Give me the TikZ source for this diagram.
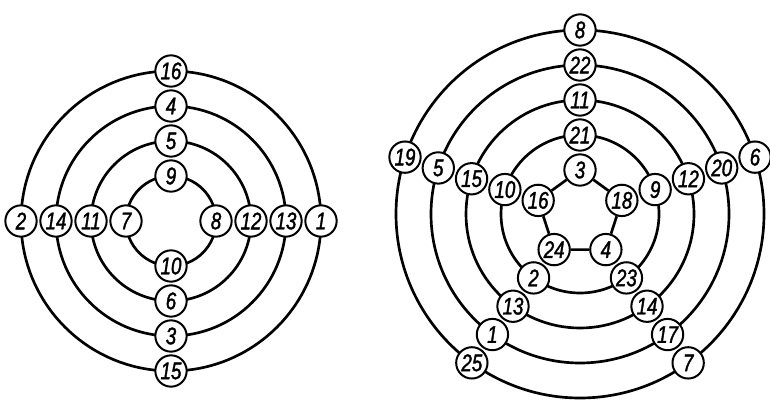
\documentclass[tikz,border=0pt]{standalone}
\usepackage{fontspec}
\newfontfamily\numfont[FakeStretch=0.78,FakeBold=1.5]{Liberation Sans}
\usetikzlibrary{calc,backgrounds}

\begin{document}
\begin{tikzpicture}[
  x=0.75pt, y=0.75pt,
  num/.style={circle, draw, line width=1.5pt, fill=white, minimum size=23.5pt,
              inner sep=0pt, font=\numfont\itshape\fontsize{18}{18}\selectfont},
  ring/.style={line width=2pt},
]
\useasboundingbox (0,0) rectangle (770,400);

\coordinate (lc) at (171,179);
\coordinate (rc) at (580,186);

%% ---------- left: four circles, numbers 1..16 ----------
\node[num] (l9)  at ($(lc)+(90:45)$)  {9};
\node[num] (l5)  at ($(lc)+(90:80)$)  {5};
\node[num] (l4)  at ($(lc)+(90:115)$) {4};
\node[num] (l16) at ($(lc)+(90:150)$) {16};

\node[num] (l7)  at ($(lc)+(180:45)$)  {7};
\node[num] (l11) at ($(lc)+(180:80)$)  {11};
\node[num] (l14) at ($(lc)+(180:115)$) {14};
\node[num] (l2)  at ($(lc)+(180:150)$) {2};

\node[num] (l8)  at ($(lc)+(0:45)$)  {8};
\node[num] (l12) at ($(lc)+(0:80)$)  {12};
\node[num] (l13) at ($(lc)+(0:115)$) {13};
\node[num] (l1)  at ($(lc)+(0:150)$) {1};

\node[num] (l10) at ($(lc)+(270:45)$)  {10};
\node[num] (l6)  at ($(lc)+(270:80)$)  {6};
\node[num] (l3)  at ($(lc)+(270:115)$) {3};
\node[num] (l15) at ($(lc)+(270:150)$) {15};

%% ---------- right: pentagon and four circles, numbers 1..25 ----------
\node[num] (r3)  at ($(rc)+(90:44)$)  {3};
\node[num] (r21) at ($(rc)+(90:79)$)  {21};
\node[num] (r11) at ($(rc)+(90:114)$) {11};
\node[num] (r22) at ($(rc)+(90:149)$) {22};
\node[num] (r8)  at ($(rc)+(90:184)$) {8};

\node[num] (r16) at ($(rc)+(162:44)$)  {16};
\node[num] (r10) at ($(rc)+(162:79)$)  {10};
\node[num] (r15) at ($(rc)+(162:114)$) {15};
\node[num] (r5)  at ($(rc)+(162:149)$) {5};
\node[num] (r19) at ($(rc)+(162:184)$) {19};

\node[num] (r18) at ($(rc)+(18:44)$)  {18};
\node[num] (r9)  at ($(rc)+(18:79)$)  {9};
\node[num] (r12) at ($(rc)+(18:114)$) {12};
\node[num] (r20) at ($(rc)+(18:149)$) {20};
\node[num] (r6)  at ($(rc)+(18:184)$) {6};

\node[num] (r24) at ($(rc)+(234:44)$)  {24};
\node[num] (r2)  at ($(rc)+(234:79)$)  {2};
\node[num] (r13) at ($(rc)+(234:114)$) {13};
\node[num] (r1)  at ($(rc)+(234:149)$) {1};
\node[num] (r25) at ($(rc)+(234:184)$) {25};

\node[num] (r4)  at ($(rc)+(306:44)$)  {4};
\node[num] (r23) at ($(rc)+(306:79)$)  {23};
\node[num] (r14) at ($(rc)+(306:114)$) {14};
\node[num] (r17) at ($(rc)+(306:149)$) {17};
\node[num] (r7)  at ($(rc)+(306:184)$) {7};

\draw[ring] (r3) -- (r16) -- (r24) -- (r4) -- (r18) -- (r3);

\begin{scope}[on background layer]
  \draw[ring] (lc) circle[radius=45];
  \draw[ring] (lc) circle[radius=80];
  \draw[ring] (lc) circle[radius=115];
  \draw[ring] (lc) circle[radius=150];
  \draw[ring] (rc) circle[radius=79];
  \draw[ring] (rc) circle[radius=114];
  \draw[ring] (rc) circle[radius=149];
  \draw[ring] (rc) circle[radius=184];
\end{scope}

\end{tikzpicture}
\end{document}
